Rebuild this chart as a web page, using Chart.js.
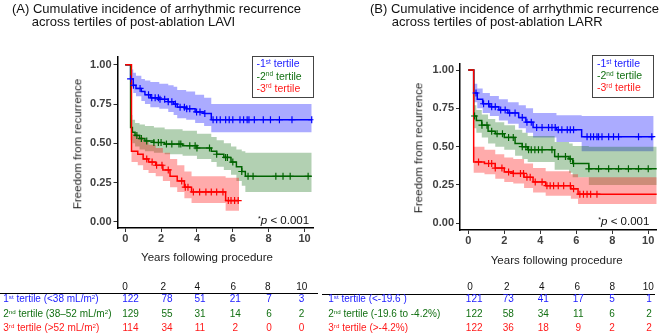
<!DOCTYPE html>
<html>
<head>
<meta charset="utf-8">
<script src="https://cdn.jsdelivr.net/npm/chart.js@4.4.1/dist/chart.umd.min.js"></script>
<style>
  body { margin: 0; background: #fff; }
  #wrap { position: relative; width: 669px; height: 336px; overflow: hidden; font-family: "Liberation Sans", Arial, sans-serif; }
  canvas { position: absolute; top: 0; }
  .txt { position: absolute; white-space: nowrap; }
  .txt sup { font-size: 0.62em; line-height: 0; vertical-align: 0; position: relative; top: -0.5em; }
  .box { position: absolute; border: 1px solid #444; box-sizing: border-box; }
  .rule { position: absolute; height: 0; border-top: 1px solid #000; }
</style>
</head>
<body>
<div id="wrap">
  <canvas id="chartA" width="334" height="336" style="left:0"></canvas>
  <canvas id="chartB" width="334" height="336" style="left:335px"></canvas>
</div>
<script>
const yearTicks = [0, 2, 4, 6, 8, 10];
const survTicks = [0, 0.25, 0.5, 0.75, 1];

// (A) LAVI tertiles: step times, survival, 95% CI, censor times
const aT1Time  = [0, 0.3, 0.45, 0.6, 0.9, 1.1, 1.4, 1.9, 2.4, 2.7, 2.9, 3.4, 3.9, 4.4, 4.8, 10.4];
const aT1Surv  = [1, 0.91, 0.87, 0.85, 0.83, 0.81, 0.79, 0.78, 0.765, 0.75, 0.73, 0.72, 0.70, 0.69, 0.65, 0.65];
const aT1Upper = [1, 0.97, 0.95, 0.93, 0.91, 0.90, 0.89, 0.88, 0.87, 0.86, 0.84, 0.83, 0.81, 0.79, 0.75, 0.75];
const aT1Lower = [1, 0.86, 0.82, 0.80, 0.77, 0.75, 0.73, 0.72, 0.70, 0.68, 0.66, 0.65, 0.63, 0.61, 0.57, 0.57];
const aT1Censor = [0.3, 0.46, 0.83, 1.3, 1.48, 1.67, 1.85, 1.94, 2.2, 2.4, 2.6, 2.8, 3.06, 3.3, 3.43, 3.6, 3.98, 4.17, 4.44,
  4.9, 5.1, 5.3, 5.6, 5.8, 6.0, 6.4, 6.6, 6.8, 6.9, 7.2, 7.7, 8.1, 8.6, 9.3, 10.4];

const aT2Time  = [0, 0.3, 0.4, 0.55, 0.8, 1.1, 1.6, 2.2, 3.2, 4.0, 4.8, 5.1, 5.5, 5.9, 6.2, 6.5, 6.7, 10.4];
const aT2Surv  = [1, 0.60, 0.57, 0.55, 0.53, 0.515, 0.505, 0.495, 0.485, 0.47, 0.45, 0.43, 0.41, 0.38, 0.35, 0.32, 0.29, 0.29];
const aT2Upper = [1, 0.68, 0.65, 0.63, 0.62, 0.61, 0.60, 0.59, 0.58, 0.56, 0.54, 0.52, 0.50, 0.48, 0.46, 0.45, 0.44, 0.44];
const aT2Lower = [1, 0.52, 0.50, 0.48, 0.46, 0.45, 0.44, 0.43, 0.42, 0.40, 0.38, 0.35, 0.33, 0.30, 0.26, 0.23, 0.19, 0.19];
const aT2Censor = [0.65, 0.9, 1.2, 1.6, 1.85, 2.0, 2.3, 2.6, 3.0, 3.1, 3.6, 3.9, 4.0, 4.7, 5.1, 5.6, 5.7, 6.0, 6.5,
  6.85, 7.13, 8.4, 8.8, 9.2, 10.2];

const aT3Time  = [0, 0.35, 0.7, 1.0, 1.3, 1.7, 2.1, 2.5, 2.9, 3.3, 3.7, 5.6, 6.35];
const aT3Surv  = [1, 0.45, 0.43, 0.40, 0.38, 0.36, 0.33, 0.29, 0.26, 0.22, 0.19, 0.135, 0.135];
const aT3Upper = [1, 0.56, 0.54, 0.51, 0.49, 0.47, 0.44, 0.40, 0.36, 0.32, 0.29, 0.28, 0.28];
const aT3Lower = [1, 0.38, 0.36, 0.33, 0.31, 0.29, 0.26, 0.22, 0.19, 0.15, 0.12, 0.07, 0.07];
const aT3Censor = [1.2, 1.5, 1.75, 2.05, 2.4, 3.15, 3.35, 3.5, 3.8, 4.15, 4.5, 4.8, 5.1, 5.45, 5.75, 5.9, 6.1, 6.3];

// (B) LARR tertiles
const bT1Time  = [0, 0.3, 0.5, 0.8, 1.2, 1.7, 2.2, 2.8, 3.2, 3.6, 4.9, 6.3, 10.3];
const bT1Surv  = [1, 0.85, 0.81, 0.78, 0.76, 0.74, 0.72, 0.69, 0.66, 0.625, 0.61, 0.565, 0.565];
const bT1Upper = [1, 0.91, 0.88, 0.85, 0.83, 0.81, 0.79, 0.77, 0.75, 0.72, 0.705, 0.70, 0.70];
const bT1Lower = [1, 0.79, 0.75, 0.72, 0.70, 0.67, 0.65, 0.62, 0.59, 0.56, 0.53, 0.47, 0.47];
const bT1Censor = [0.43, 0.85, 1.13, 1.3, 1.5, 1.8, 2.05, 2.3, 2.6, 3.0, 3.26, 3.5, 3.8, 4.1, 4.46, 4.65, 4.83, 5.0, 5.2,
  5.5, 5.67, 5.85, 6.6, 6.8, 6.96, 7.15, 7.24, 7.43, 7.8, 8.07, 8.35, 9.46, 10.2];

const bT2Time  = [0, 0.3, 0.45, 0.75, 1.1, 1.5, 2.0, 2.6, 3.0, 3.3, 4.8, 5.6, 5.8, 6.7, 10.5];
const bT2Surv  = [1, 0.70, 0.67, 0.64, 0.60, 0.585, 0.56, 0.52, 0.50, 0.48, 0.435, 0.42, 0.39, 0.355, 0.355];
const bT2Upper = [1, 0.77, 0.74, 0.71, 0.68, 0.66, 0.64, 0.61, 0.59, 0.57, 0.53, 0.52, 0.505, 0.50, 0.50];
const bT2Lower = [1, 0.62, 0.59, 0.56, 0.52, 0.50, 0.48, 0.44, 0.42, 0.40, 0.35, 0.33, 0.30, 0.25, 0.25];
const bT2Censor = [0.35, 0.76, 1.04, 1.3, 1.6, 1.9, 2.24, 2.5, 3.0, 3.2, 3.35, 3.5, 3.7, 3.9, 4.1, 4.65, 5.0, 5.4, 5.67,
  5.85, 6.7, 7.24, 7.8, 8.35, 8.9, 9.46, 10.0];

const bT3Time  = [0, 0.3, 0.9, 1.5, 2.0, 2.5, 3.1, 3.6, 4.3, 5.7, 6.1, 10.5];
const bT3Surv  = [1, 0.40, 0.39, 0.36, 0.335, 0.325, 0.30, 0.27, 0.245, 0.225, 0.19, 0.19];
const bT3Upper = [1, 0.50, 0.48, 0.45, 0.43, 0.42, 0.39, 0.36, 0.34, 0.32, 0.30, 0.30];
const bT3Lower = [1, 0.33, 0.32, 0.29, 0.27, 0.26, 0.23, 0.20, 0.18, 0.16, 0.125, 0.125];
const bT3Censor = [0.57, 1.13, 1.3, 1.5, 1.87, 2.24, 2.5, 2.9, 3.07, 3.26, 3.44, 3.72, 4.1, 4.37, 4.55, 4.74, 5.0, 5.3,
  5.67, 5.85, 6.2, 6.4, 6.6, 6.8, 7.15];

// numbers at risk
const riskYears = [0, 2, 4, 6, 8, 10];
const aRisk1 = [122, 78, 51, 21, 7, 3];
const aRisk2 = [129, 55, 31, 14, 6, 2];
const aRisk3 = [114, 34, 11, 2, 0, 0];
const bRisk1 = [121, 73, 41, 17, 5, 1];
const bRisk2 = [122, 58, 34, 11, 6, 2];
const bRisk3 = [122, 36, 18, 9, 2, 2];

const aRowLabels = ['1<sup>st</sup> tertile (&lt;38 mL/m<sup>2</sup>)', '2<sup>nd</sup> tertile (38\u201352 mL/m<sup>2</sup>)', '3<sup>rd</sup> tertile (&gt;52 mL/m<sup>2</sup>)'];
const bRowLabels = ['1<sup>st</sup> tertile (&lt;-19.6 )', '2<sup>nd</sup> tertile (-19.6 to -4.2%)', '3<sup>rd</sup> tertile (&gt;-4.2%)'];
const legendLabels = ['-1<sup>st</sup> tertile', '-2<sup>nd</sup> tertile', '-3<sup>rd</sup> tertile'];

const blue = '#0000ff', green = '#006400', red = '#ff0000';
const textColors = ['#1a1aff', '#137013', '#ff1a1a'];
const FONT = '"Liberation Sans", Arial, sans-serif';

function survAt(time, surv, t) {
  let s = surv[0];
  for (let i = 0; i < time.length; i++) {
    if (time[i] <= t) s = surv[i];
  }
  return s;
}

function group(time, surv, upper, lower, censor, color, band) {
  const pts = ys => time.map((t, i) => ({x: t, y: ys[i]}));
  return [
    {data: pts(upper), stepped: true, borderColor: 'rgba(0,0,0,0)', borderWidth: 0, pointRadius: 0,
      backgroundColor: band, fill: '+1', order: 3},
    {data: pts(lower), stepped: true, borderColor: 'rgba(0,0,0,0)', borderWidth: 0, pointRadius: 0,
      fill: false, order: 3},
    {data: pts(surv), stepped: true, borderColor: color, borderWidth: 1.5, pointRadius: 0, fill: false, order: 2},
    {data: censor.map(t => ({x: t, y: survAt(time, surv, t)})), showLine: false, fill: false,
      pointStyle: 'cross', pointRadius: 3.5, pointBorderColor: color, pointBorderWidth: 1.2, order: 1}
  ];
}

function makeChart(id, groups, xMin, xMax, yMin, yMax, axisW, axisH, padTop, padRight) {
  return new Chart(document.getElementById(id), {
    type: 'line',
    data: {datasets: groups.flat()},
    options: {
      responsive: false,
      animation: false,
      events: [],
      layout: {padding: {top: padTop, right: padRight, left: 0, bottom: 0}},
      plugins: {legend: {display: false}, tooltip: {enabled: false}},
      scales: {
        x: {
          type: 'linear', min: xMin, max: xMax,
          afterBuildTicks: s => { s.ticks = yearTicks.map(v => ({value: v})); },
          afterFit: s => { s.height = axisH; },
          grid: {drawOnChartArea: false, drawTicks: true, tickLength: 4, color: '#333'},
          border: {color: '#000', width: 1.5},
          ticks: {autoSkip: false, maxRotation: 0, padding: 0, color: '#404040',
            font: {family: FONT, size: 11, weight: 'bold'}}
        },
        y: {
          type: 'linear', min: yMin, max: yMax,
          afterBuildTicks: s => { s.ticks = survTicks.map(v => ({value: v})); },
          afterFit: s => { s.width = axisW; },
          grid: {drawOnChartArea: false, drawTicks: true, tickLength: 4, color: '#333'},
          border: {color: '#000', width: 1.5},
          ticks: {padding: 2, color: '#404040', font: {family: FONT, size: 11, weight: 'bold'},
            callback: v => v.toFixed(2)}
        }
      }
    }
  });
}

// red first so it is drawn on top, like the original
makeChart('chartA', [
  group(aT3Time, aT3Surv, aT3Upper, aT3Lower, aT3Censor, red, 'rgba(255,0,0,0.33)'),
  group(aT2Time, aT2Surv, aT2Upper, aT2Lower, aT2Censor, green, 'rgba(0,100,0,0.3)'),
  group(aT1Time, aT1Surv, aT1Upper, aT1Lower, aT1Censor, blue, 'rgba(0,0,255,0.33)')
], -0.43, 10.5, -0.04, 1.05, 117.5, 108, 57, 20.5);

makeChart('chartB', [
  group(bT3Time, bT3Surv, bT3Upper, bT3Lower, bT3Censor, red, 'rgba(255,0,0,0.33)'),
  group(bT2Time, bT2Surv, bT2Upper, bT2Lower, bT2Censor, green, 'rgba(0,100,0,0.3)'),
  group(bT1Time, bT1Surv, bT1Upper, bT1Lower, bT1Censor, blue, 'rgba(0,0,255,0.33)')
], -0.46, 10.47, -0.044, 1.044, 125, 106, 63.3, 12.3);

// ---- text around the plots ----
const wrap = document.getElementById('wrap');

function text(x, base, html, size, color, align, style) {
  const d = document.createElement('div');
  d.className = 'txt';
  d.innerHTML = html;
  d.style.fontSize = size + 'px';
  d.style.lineHeight = size + 'px';
  d.style.top = (base - 0.8465 * size) + 'px';
  d.style.left = x + 'px';
  d.style.color = color;
  if (align === 'center') d.style.transform = 'translateX(-50%)';
  if (style) Object.assign(d.style, style);
  wrap.appendChild(d);
  return d;
}

function yTitle(cx, cy) {
  const d = document.createElement('div');
  d.className = 'txt';
  d.textContent = 'Freedom from recurrence';
  Object.assign(d.style, {fontSize: '11.5px', lineHeight: '11.5px', color: '#222', left: cx + 'px', top: cy + 'px',
    transform: 'translate(-50%,-50%) rotate(-90deg)'});
  wrap.appendChild(d);
}

function box(l, t, w, h) {
  const d = document.createElement('div');
  d.className = 'box';
  Object.assign(d.style, {left: l + 'px', top: t + 'px', width: w + 'px', height: h + 'px'});
  wrap.appendChild(d);
}

function rule(l, t, w) {
  const d = document.createElement('div');
  d.className = 'rule';
  Object.assign(d.style, {left: l + 'px', top: t + 'px', width: w + 'px'});
  wrap.appendChild(d);
}

function panelText(p) {
  text(p.titleX, 12.7, p.title1, 13, '#111');
  text(p.titleX2, 26, p.title2, 13, '#111');
  box(p.legX, p.legY, 62, 42.5);
  legendLabels.forEach((s, i) => text(p.legX + 5, p.legY + 11.7 + i * 12.2, s, 10.5, textColors[i]));
  text(p.pX, p.pBase, '<sup>*</sup><i>p</i> &lt; 0.001', 11.5, '#111');
  text(p.xTitleX, p.xTitleBase, 'Years following procedure', 11.5, '#222', 'center');
  yTitle(p.yTitleX, p.yTitleY);
  riskYears.forEach((yr, i) => text(p.headX[i], 290, String(yr), 10, '#111', 'center'));
  rule(p.ruleX, p.ruleY, p.ruleW);
  const rowBase = [302.7, 317.3, 331.7];
  p.risks.forEach((row, r) => {
    text(p.rowX, rowBase[r], p.rowLabels[r], 10, textColors[r]);
    row.forEach((n, i) => text(p.numX[i], rowBase[r], String(n), 10, textColors[r], 'center'));
  });
}

panelText({
  titleX: 12, titleX2: 31.7,
  title1: '(A) Cumulative incidence of arrhythmic recurrence',
  title2: 'across tertiles of post-ablation LAVI',
  legX: 251.5, legY: 55.5, pX: 258, pBase: 225,
  xTitleX: 207, xTitleBase: 262, yTitleX: 77.5, yTitleY: 144,
  headX: [125, 163.3, 197.3, 233.3, 267.7, 301.7],
  ruleX: 0, ruleY: 293, ruleW: 318,
  rowX: 3.3, rowLabels: aRowLabels, risks: [aRisk1, aRisk2, aRisk3],
  numX: [130.5, 167, 200, 235.3, 269, 301.5]
});

panelText({
  titleX: 370, titleX2: 391.7,
  title1: '(B) Cumulative incidence of arrhythmic recurrence',
  title2: 'across tertiles of post-ablation LARR',
  legX: 592, legY: 55, pX: 598.3, pBase: 226,
  xTitleX: 556.7, xTitleBase: 265, yTitleX: 419, yTitleY: 148,
  headX: [470, 506.7, 541.7, 577.3, 612.3, 648.3],
  ruleX: 322, ruleY: 294, ruleW: 333,
  rowX: 328.3, rowLabels: bRowLabels, risks: [bRisk1, bRisk2, bRisk3],
  numX: [474.2, 508.3, 543.3, 578.3, 612, 649]
});
</script>
</body>
</html>
